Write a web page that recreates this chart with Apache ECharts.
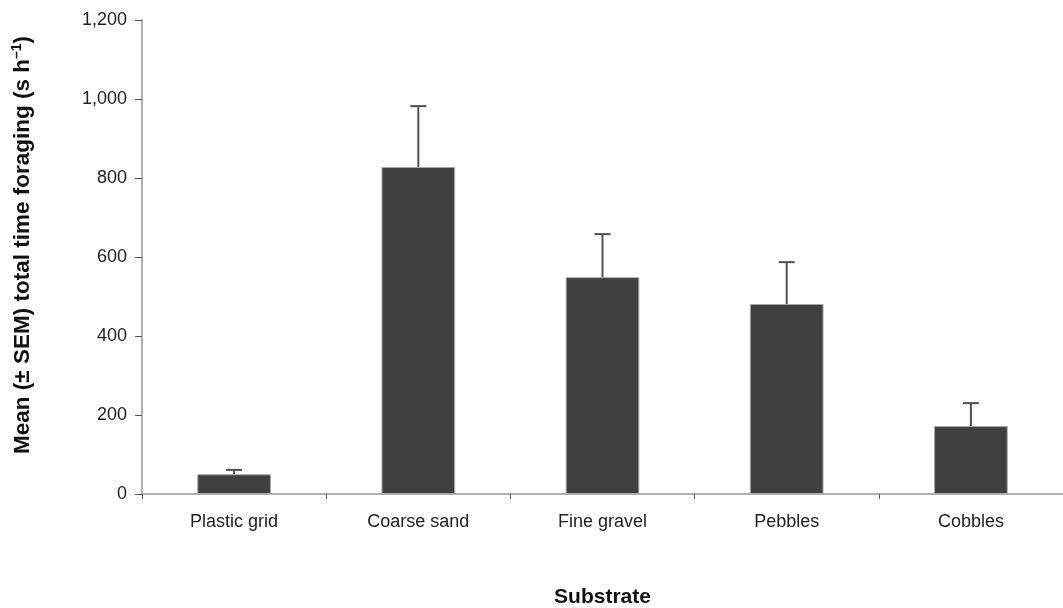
<!DOCTYPE html>
<html>
<head>
<meta charset="utf-8">
<script src="https://cdn.jsdelivr.net/npm/echarts@6/dist/echarts.min.js"></script>
<style>
  html, body { margin: 0; padding: 0; background: #fff; }
  #main { width: 1063px; height: 608px; }
</style>
</head>
<body>
<div id="main"></div>
<script>
var substrates = ['Plastic grid', 'Coarse sand', 'Fine gravel', 'Pebbles', 'Cobbles'],
    means = [50, 828, 549, 481, 172],
    upper = [61, 982, 658, 587, 230],
    yTicks = [0, 200, 400, 600, 800, 1000, 1200];

var chart = echarts.init(document.getElementById('main')),
    font = '"Liberation Sans", Arial, sans-serif';

function fmt(v) {
    return String(v).replace(/\B(?=(\d{3})+(?!\d))/g, ',');
}

var option = {
    animation: false,
    grid: { left: 142, right: 0, top: 20, bottom: 114, outerBoundsMode: 'none', containLabel: false },
    xAxis: {
        type: 'category',
        data: substrates,
        name: 'Substrate',
        nameLocation: 'middle',
        nameGap: 93,
        nameTextStyle: { fontFamily: font, fontSize: 21, fontWeight: 'bold', color: '#111' },
        axisLine: { lineStyle: { color: '#b0b0b0', width: 2 } },
        axisTick: { show: true, length: 5, lineStyle: { color: '#555', width: 1 } },
        axisLabel: { margin: 19, fontFamily: font, fontSize: 18, color: '#222' }
    },
    yAxis: {
        type: 'value',
        min: yTicks[0],
        max: yTicks[yTicks.length - 1],
        interval: 200,
        name: 'Mean (± SEM) total time foraging (s h{sup|–1})',
        nameLocation: 'middle',
        nameGap: 107,
        nameTextStyle: {
            fontFamily: font, fontSize: 22.5, fontWeight: 'bold', color: '#111',
            padding: [0, 0, 0, 24],
            rich: { sup: { fontFamily: font, fontSize: 14, fontWeight: 'bold', color: '#111', padding: [0, 0, 11, 0] } }
        },
        axisLine: { show: true, lineStyle: { color: '#b0b0b0', width: 2 } },
        axisTick: { show: true, length: 7, lineStyle: { color: '#555', width: 1 } },
        axisLabel: { margin: 15, fontFamily: font, fontSize: 18, color: '#222', formatter: fmt },
        splitLine: { show: false }
    },
    series: [
        {
            type: 'bar',
            data: means,
            barWidth: '40%',
            itemStyle: { color: '#404040', borderColor: '#a8a8a8', borderWidth: 1 }
        },
        {
            type: 'custom',
            data: substrates.map(function (s, i) { return [i, means[i], upper[i]]; }),
            z: 3,
            renderItem: function (params, api) {
                var base = api.coord([api.value(0), api.value(1)]),
                    top = api.coord([api.value(0), api.value(2)]),
                    half = 8,
                    style = { stroke: '#505050', lineWidth: 2 };
                return {
                    type: 'group',
                    children: [
                        { type: 'line', shape: { x1: base[0], y1: base[1], x2: top[0], y2: top[1] }, style: style },
                        { type: 'line', shape: { x1: top[0] - half, y1: top[1], x2: top[0] + half, y2: top[1] }, style: style }
                    ]
                };
            }
        }
    ]
};

chart.setOption(option);
</script>
</body>
</html>
